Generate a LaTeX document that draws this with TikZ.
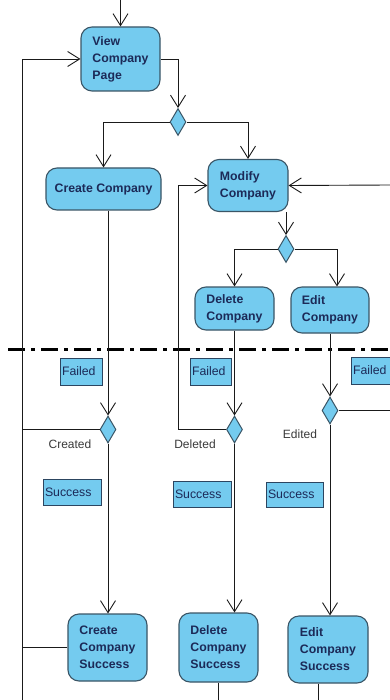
\documentclass[tikz,border=0pt]{standalone}
\usepackage{fontspec}
\setmainfont{Liberation Sans}
\usetikzlibrary{arrows.meta,shapes.geometric}
\definecolor{boxfill}{HTML}{74CBEF}
\definecolor{boxline}{HTML}{3A5566}
\definecolor{boxtext}{HTML}{1C2A58}
\definecolor{noteline}{HTML}{2C4560}
\definecolor{flowline}{HTML}{1A1A1A}
\definecolor{guardtext}{HTML}{3A3A3A}
\begin{document}
\begin{tikzpicture}[x=1pt,y=-1pt,
  action/.style={draw=boxline,fill=boxfill,line width=1.1pt,rounded corners=11pt,
    inner sep=0pt,align=left,font=\bfseries\fontsize{12.3}{17}\selectfont,text=boxtext},
  note/.style={draw=noteline,fill=boxfill,line width=1pt,inner xsep=2pt,inner ysep=0pt,
    align=left,text width=#1,font=\fontsize{12.3}{14}\selectfont,text=boxtext},
  decision/.style={diamond,draw=boxline,fill=boxfill,line width=1pt,inner sep=0pt,
    minimum width=16pt,minimum height=27pt},
  flow/.style={draw=flowline,line width=0.9pt},
  arr/.style={flow,-{Straight Barb[length=12pt,width=15pt,line width=0.9pt]}},
  guard/.style={font=\fontsize{12}{14}\selectfont,text=guardtext,inner sep=0pt}]
\fill[white] (0,0) rectangle (390,700);
\useasboundingbox (0,0) rectangle (390,700);

% actions
\node[action,minimum width=79pt,minimum height=64pt] (view) at (120.5,59) {View\\Company\\Page};
\node[action,minimum width=115pt,minimum height=42pt,align=center] (create) at (103.5,189) {Create Company};
\node[action,minimum width=80pt,minimum height=52pt] (modify) at (248,185.5) {Modify\\Company};
\node[action,minimum width=79pt,minimum height=43pt] (delete) at (234.5,308.5) {Delete\\Company};
\node[action,minimum width=78pt,minimum height=46pt] (edit) at (330,310) {Edit\\Company};
\node[action,minimum width=79pt,minimum height=67pt] (cs) at (107.5,647.5) {Create\\Company\\Success};
\node[action,minimum width=79pt,minimum height=69pt] (ds) at (218.5,647.5) {Delete\\Company\\Success};
\node[action,minimum width=80pt,minimum height=67pt] (es) at (328,649.5) {Edit\\Company\\Success};

% decisions
\node[decision] (d1) at (178,122) {};
\node[decision] (d2) at (286,249) {};
\node[decision] (d3) at (108,429.5) {};
\node[decision] (d4) at (234.5,429.5) {};
\node[decision] (d5) at (330,410.5) {};

% guard notes
\node[note=38pt,minimum height=27pt] (f1) at (81,371.5) {Failed};
\node[note=37pt,minimum height=27pt] (f2) at (210.5,371.5) {Failed};
\node[note=38pt,minimum height=27pt] (f3) at (372,370.5) {Failed};
\node[note=54pt,minimum height=26pt] (s1) at (72,492) {Success};
\node[note=54pt,minimum height=26pt] (s2) at (202,494) {Success};
\node[note=53pt,minimum height=25pt] (s3) at (294.5,494.5) {Success};

% outcome labels
\node[guard] (lc) at (70,444) {Created};
\node[guard] (ld) at (195,444) {Deleted};
\node[guard] (le) at (300,434) {Edited};

% swimlane separator
\coordinate (sepL) at (8,349.5);
\coordinate (sepR) at (390,349.5);
\draw[line width=2.5pt,dash pattern=on 17pt off 6pt on 4pt off 6pt] (sepL) -- (sepR);

% boundary points
\coordinate (top) at (120.5,0);
\coordinate (loopL) at (22,700);
\coordinate (loopM) at (178,0);
\coordinate (rightM) at (390,185);
\coordinate (rightE) at (390,410.5);
\coordinate (bottom) at (0,700);

% flows
\draw[arr] (top) -- (view.north);
\draw[arr] (view.east) -| (d1.north);
\draw[arr] (d1.west) -| (create.north);
\draw[arr] (d1.east) -| (modify.north);
\draw[arr] (modify.south -| d2.north) -- (d2.north);
\draw[arr] (d2.west) -| (delete.north);
\draw[arr] (d2.east) -| ([xshift=7pt]edit.north);
\draw[arr] (create.south -| d3.north) -- (d3.north);
\draw[arr] (d3.south) -- (cs.north -| d3.south);
\draw[arr] (delete.south) -- (d4.north);
\draw[arr] (d4.south) -- (d4.south |- ds.north);
\draw[arr] (edit.south) -- (d5.north);
\draw[arr] (d5.south) -- (d5.south |- es.north);
\draw[arr] (loopL) |- (view.west);
\draw[flow] (d3.west) -- (d3.west -| loopL);
\draw[flow] (cs.west) -- (cs.west -| loopL);
\draw[arr] (d4.west) -| (d4.west -| loopM) |- (modify.west);
\draw[arr] (rightM) -- (modify.east);
\draw[flow] (d5.east) -- (rightE);
\draw[flow] (ds.south) -- (ds.south |- bottom);
\draw[flow] ([xshift=-10pt]es.south) -- ([xshift=-10pt]es.south |- bottom);
\end{tikzpicture}
\end{document}
